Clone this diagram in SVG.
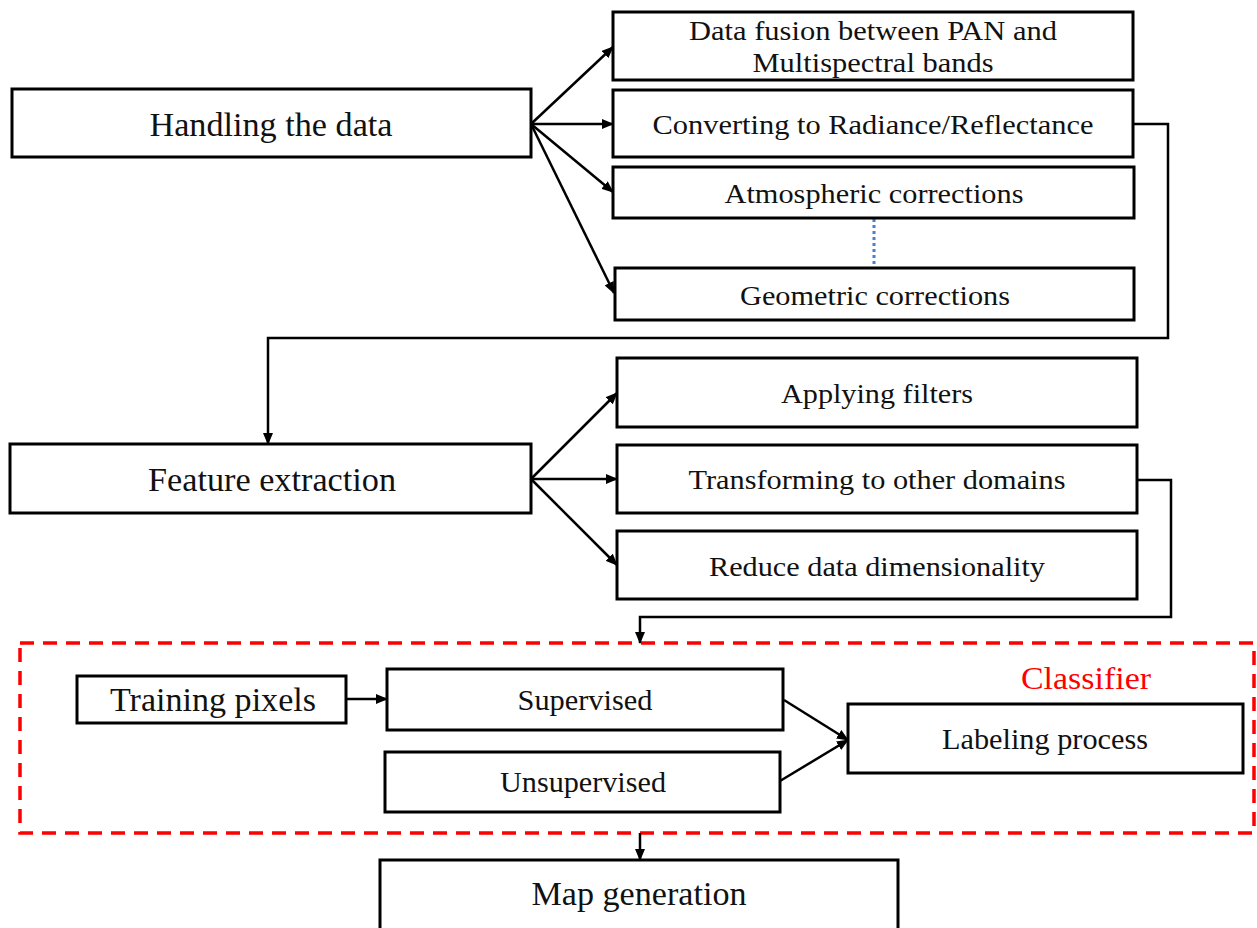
<svg xmlns="http://www.w3.org/2000/svg" width="1257" height="928" viewBox="0 0 1257 928">
  <style>
    .box { fill: #fff; stroke: #000; stroke-width: 3; }
    .lbl { font-family: "Liberation Serif", "Times New Roman", serif; fill: #111; text-anchor: middle; }
    .big { font-size: 34px; }
    .mid { font-size: 27px; }
    .tall { font-size: 29px; }
    .wire { fill: none; stroke: #000; stroke-width: 2.5; }
    .arr { marker-end: url(#head); }
  </style>
  <defs>
    <marker id="head" markerUnits="userSpaceOnUse" markerWidth="12" markerHeight="10" refX="11" refY="5" orient="auto">
      <path d="M0,0 L12,5 L0,10 Z" fill="#000"/>
    </marker>
  </defs>

  <rect width="1257" height="928" fill="#fff"/>

  <!-- classifier frame -->
  <g id="classifier">
    <rect x="20" y="643" width="1234" height="190" fill="none" stroke="#ff0000" stroke-width="3.5" stroke-dasharray="14,9"/>
    <text class="lbl" x="1086" y="689" font-size="31" style="fill:#ff0000" textLength="130" lengthAdjust="spacingAndGlyphs">Classifier</text>
  </g>

  <!-- connectors -->
  <g id="connectors">
    <line class="wire arr" x1="531" y1="124" x2="613" y2="47"/>
    <line class="wire arr" x1="531" y1="124" x2="613" y2="124"/>
    <line class="wire arr" x1="531" y1="124" x2="613" y2="192"/>
    <line class="wire arr" x1="531" y1="124" x2="614" y2="293"/>
    <line x1="874" y1="219" x2="874" y2="267" stroke="#4a80d0" stroke-width="3" stroke-dasharray="3,3"/>
    <polyline class="wire arr" points="1133,124 1168,124 1168,338 268,338 268,444"/>
    <line class="wire arr" x1="531" y1="479" x2="617" y2="393"/>
    <line class="wire arr" x1="531" y1="479" x2="617" y2="479"/>
    <line class="wire arr" x1="531" y1="479" x2="617" y2="565"/>
    <polyline class="wire arr" points="1137,480 1171,480 1171,617 640,617 640,643"/>
    <line class="wire arr" x1="346" y1="699" x2="387" y2="699"/>
    <line class="wire arr" x1="784" y1="700" x2="848" y2="740"/>
    <line class="wire arr" x1="780" y1="781" x2="848" y2="740"/>
    <polyline class="wire arr" points="640,833 640,860"/>
  </g>

  <g id="handling">
    <rect class="box" x="12" y="89" width="519" height="68"/>
    <text class="lbl big" x="271" y="136" textLength="243" lengthAdjust="spacingAndGlyphs">Handling the data</text>
  </g>
  <g id="fusion">
    <rect class="box" x="613" y="12" width="520" height="68"/>
    <text class="lbl mid" x="873" y="40" textLength="368" lengthAdjust="spacingAndGlyphs">Data fusion between PAN and</text>
    <text class="lbl mid" x="873" y="72" textLength="241" lengthAdjust="spacingAndGlyphs">Multispectral bands</text>
  </g>
  <g id="radiance">
    <rect class="box" x="613" y="90" width="520" height="67"/>
    <text class="lbl mid" x="873" y="134" textLength="441" lengthAdjust="spacingAndGlyphs">Converting to Radiance/Reflectance</text>
  </g>
  <g id="atmospheric">
    <rect class="box" x="613" y="167" width="521" height="51"/>
    <text class="lbl mid" x="874" y="203" textLength="299" lengthAdjust="spacingAndGlyphs">Atmospheric corrections</text>
  </g>
  <g id="geometric">
    <rect class="box" x="615" y="268" width="519" height="52"/>
    <text class="lbl mid" x="875" y="305" textLength="270" lengthAdjust="spacingAndGlyphs">Geometric corrections</text>
  </g>

  <g id="feature">
    <rect class="box" x="10" y="444" width="521" height="69"/>
    <text class="lbl big" x="272" y="491" textLength="248" lengthAdjust="spacingAndGlyphs">Feature extraction</text>
  </g>
  <g id="filters">
    <rect class="box" x="617" y="358" width="520" height="69"/>
    <text class="lbl mid" x="877" y="403" textLength="192" lengthAdjust="spacingAndGlyphs">Applying filters</text>
  </g>
  <g id="domains">
    <rect class="box" x="617" y="445" width="520" height="68"/>
    <text class="lbl mid" x="877" y="489" textLength="377" lengthAdjust="spacingAndGlyphs">Transforming to other domains</text>
  </g>
  <g id="reduce">
    <rect class="box" x="617" y="531" width="520" height="68"/>
    <text class="lbl mid" x="877" y="576" textLength="336" lengthAdjust="spacingAndGlyphs">Reduce data dimensionality</text>
  </g>

  <g id="training">
    <rect class="box" x="77" y="676" width="269" height="47"/>
    <text class="lbl big" x="213" y="711" textLength="206" lengthAdjust="spacingAndGlyphs">Training pixels</text>
  </g>
  <g id="supervised">
    <rect class="box" x="387" y="669" width="396" height="61"/>
    <text class="lbl tall" x="585" y="710" textLength="135" lengthAdjust="spacingAndGlyphs">Supervised</text>
  </g>
  <g id="unsupervised">
    <rect class="box" x="385" y="752" width="395" height="60"/>
    <text class="lbl tall" x="583" y="792" textLength="166" lengthAdjust="spacingAndGlyphs">Unsupervised</text>
  </g>
  <g id="labeling">
    <rect class="box" x="848" y="704" width="395" height="69"/>
    <text class="lbl tall" x="1045" y="749" textLength="206" lengthAdjust="spacingAndGlyphs">Labeling process</text>
  </g>

  <g id="map">
    <rect class="box" x="380" y="860" width="518" height="74"/>
    <text class="lbl big" x="639" y="905" textLength="215" lengthAdjust="spacingAndGlyphs">Map generation</text>
  </g>
</svg>
